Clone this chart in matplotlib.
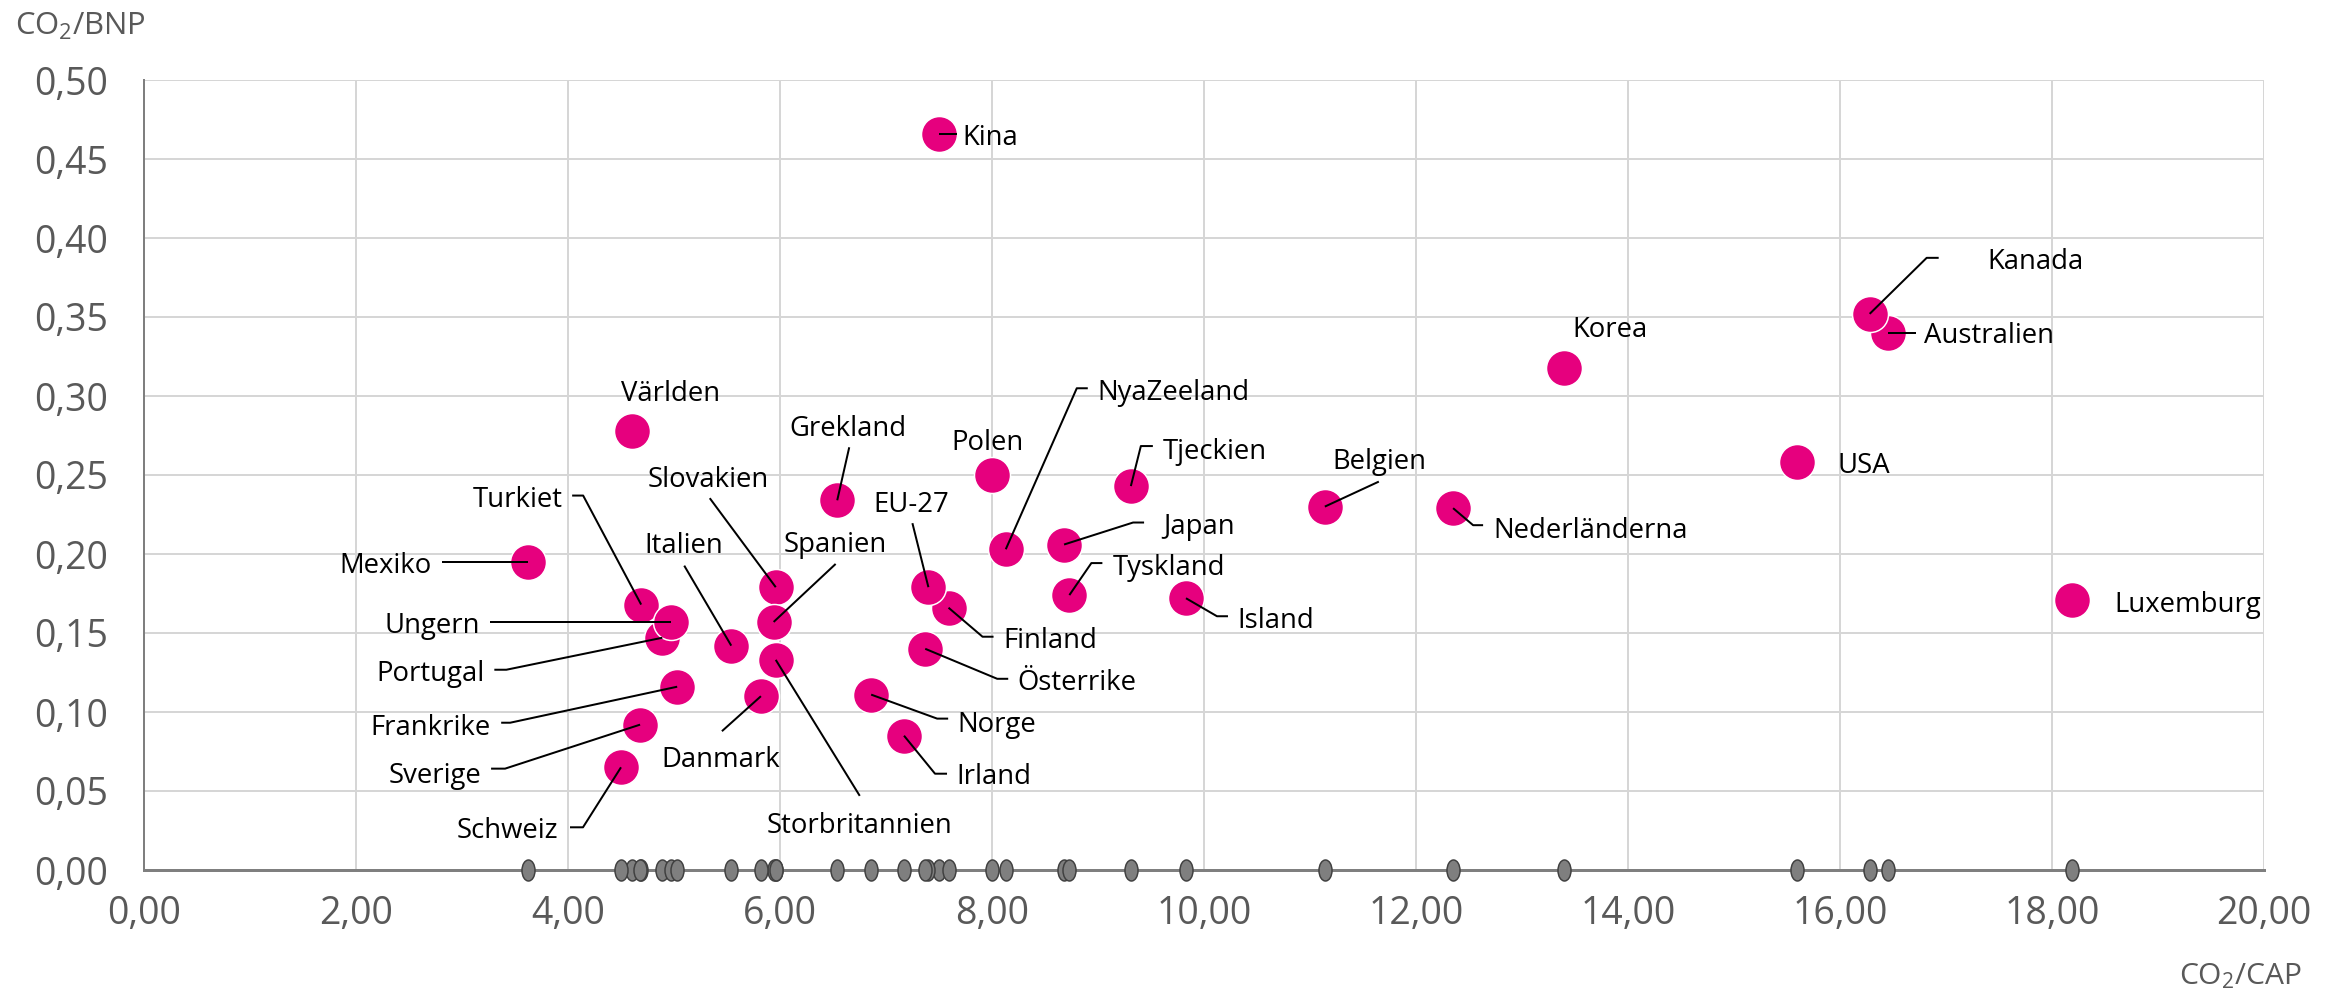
import numpy as np
import matplotlib
matplotlib.use("Agg")
import matplotlib.pyplot as plt
from matplotlib.path import Path
from matplotlib.transforms import Affine2D, ScaledTranslation
from matplotlib.ticker import FuncFormatter, MultipleLocator

# ================================
# DATA (CO2/CAP, CO2/BNP)
# ================================
LAND = ["Kina", "Australien", "Kanada", "Korea", "Världen", "USA", "Polen",
        "Tjeckien", "Grekland", "Belgien", "Nederländerna", "Japan",
        "NyaZeeland", "Mexiko", "Slovakien", "Finland", "EU-27", "Tyskland",
        "Island", "Luxemburg", "Turkiet", "Portugal", "Ungern", "Spanien",
        "Italien", "Österrike", "Storbritannien", "Frankrike", "Norge",
        "Danmark", "Sverige", "Irland", "Schweiz"]
CO2_CAP = [7.50, 16.45, 16.28, 13.40, 4.60, 15.59, 8.00,
           9.31, 6.54, 11.14, 12.35, 8.68,
           8.13, 3.62, 5.96, 7.59, 7.40, 8.73,
           9.83, 18.19, 4.69, 4.89, 4.97, 5.94,
           5.54, 7.37, 5.96, 5.03, 6.86,
           5.82, 4.68, 7.17, 4.50]
CO2_BNP = [0.466, 0.340, 0.352, 0.318, 0.278, 0.258, 0.250,
           0.243, 0.234, 0.230, 0.229, 0.206,
           0.203, 0.195, 0.179, 0.166, 0.179, 0.174,
           0.172, 0.171, 0.168, 0.147, 0.157, 0.157,
           0.142, 0.140, 0.133, 0.116, 0.111,
           0.110, 0.092, 0.085, 0.065]

# label layout: text offset (pt), alignment, leader-line bend points (pt)
ETIKETT = {
    "Kina": ((23, -1), "left", [(18, 0)]),
    "Kanada": ((118, 55), "left", [(57, 56), (69, 56)]),
    "Australien": ((36, 0), "left", [(28, 0)]),
    "Korea": ((46, 41), "center", []),
    "Världen": ((39, 40), "center", []),
    "USA": ((41, -1), "left", []),
    "Polen": ((-4, 35), "center", []),
    "Tjeckien": ((32, 37), "left", [(10, 40), (22, 40)]),
    "Grekland": ((11, 74), "center", [(12, 53)]),
    "Belgien": ((55, 48), "center", [(54, 25)]),
    "Nederländerna": ((40, -20), "left", [(20, -17), (30, -17)]),
    "Japan": ((99, 21), "left", [(69, 22), (80, 22)]),
    "NyaZeeland": ((92, 159), "left", [(71, 161), (82, 161)]),
    "Mexiko": ((-96, -1), "right", [(-86, 0)]),
    "Slovakien": ((-68, 110), "center", [(-66, 89)]),
    "EU-27": ((-17, 85), "center", [(-16, 64)]),
    "Tyskland": ((43, 30), "left", [(22, 32), (33, 32)]),
    "Island": ((51, -20), "left", [(31, -18), (42, -18)]),
    "Luxemburg": ((42, -2), "left", []),
    "Turkiet": ((-78, 108), "right", [(-58, 109), (-69, 109)]),
    "Finland": ((55, -30), "left", [(34, -29), (45, -29)]),
    "Ungern": ((-191, -1), "right", [(-181, 0)]),
    "Spanien": ((62, 80), "center", [(62, 58)]),
    "Portugal": ((-178, -33), "right", [(-156, -32), (-168, -32)]),
    "Italien": ((-47, 103), "center", [(-47, 80)]),
    "Österrike": ((92, -31), "left", [(72, -30), (83, -30)]),
    "Storbritannien": ((84, -163), "center", [(84, -136)]),
    "Frankrike": ((-187, -38), "right", [(-167, -36), (-176, -36)]),
    "Norge": ((86, -27), "left", [(66, -24), (77, -24)]),
    "Danmark": ((-40, -61), "center", [(-39, -35)]),
    "Sverige": ((-159, -48), "right", [(-135, -44), (-149, -44)]),
    "Irland": ((52, -38), "left", [(31, -38), (43, -38)]),
    "Schweiz": ((-63, -61), "right", [(-38, -60), (-51, -60)]),
}

MAGENTA = "#E6007E"
GRA = "#595959"

plt.rcParams["font.family"] = "Open Sans"
plt.rcParams["mathtext.fontset"] = "custom"
plt.rcParams["mathtext.rm"] = "Open Sans"
plt.rcParams["mathtext.default"] = "regular"

DPI = 72
fig = plt.figure(figsize=(2338 / DPI, 993 / DPI), dpi=DPI)
ax = fig.add_axes([144 / 2338, 1 - 870 / 993, 2120 / 2338, 790 / 993])

ax.set_xlim(0, 20)
ax.set_ylim(0, 0.5)
ax.xaxis.set_major_locator(MultipleLocator(2))
ax.yaxis.set_major_locator(MultipleLocator(0.05))
komma = FuncFormatter(lambda v, p: f"{v:.2f}".replace(".", ","))
ax.xaxis.set_major_formatter(komma)
ax.yaxis.set_major_formatter(komma)
ax.tick_params(length=0, labelsize=37.5, labelcolor=GRA)
ax.tick_params(axis="x", pad=25)
ax.tick_params(axis="y", pad=36)
ax.grid(True, color="#D6D6D6", lw=2)
ax.set_axisbelow(True)
for s in ["top", "right"]:
    ax.spines[s].set_visible(False)
ax.spines["left"].set_color("#7F7F7F")
ax.spines["left"].set_linewidth(2)
ax.spines["bottom"].set_color("#7F7F7F")
ax.spines["bottom"].set_linewidth(3)

# points
ax.scatter(CO2_CAP, CO2_BNP, s=36 ** 2, c=MAGENTA, edgecolors="white",
           linewidths=1.5, zorder=3)

# projection on the x axis
ellips = Path.unit_circle().transformed(Affine2D().scale(0.62, 1.0))
ax.plot(CO2_CAP, np.zeros(len(CO2_CAP)), ls="none", marker=ellips, ms=21,
        mfc="#7F7F7F", mec="#404040", mew=1.5, clip_on=False, zorder=4)

# labels + leader lines (offsets in points from the data point)
for namn, x, y in zip(LAND, CO2_CAP, CO2_BNP):
    (dx, dy), ha, bend = ETIKETT[namn]
    ax.annotate(namn, (x, y), xytext=(dx, dy - 10), textcoords="offset points",
                ha=ha, va="baseline", fontsize=27.5, color="black", zorder=6)
    if bend:
        tr = (Affine2D().scale(1 / 72) + fig.dpi_scale_trans
              + ScaledTranslation(x, y, ax.transData))
        pts = np.array([(0, 0)] + bend)
        ax.plot(pts[:, 0], pts[:, 1], color="black", lw=2, transform=tr,
                zorder=5, solid_capstyle="butt")

fig.text(15 / 2338, 1 - 35 / 993, "CO$_2$/BNP", fontsize=31, color=GRA,
         ha="left", va="baseline")
fig.text(2302 / 2338, 1 - 984 / 993, "CO$_2$/CAP", fontsize=30, color=GRA,
         ha="right", va="baseline")

fig.savefig("out.png", dpi=DPI)
